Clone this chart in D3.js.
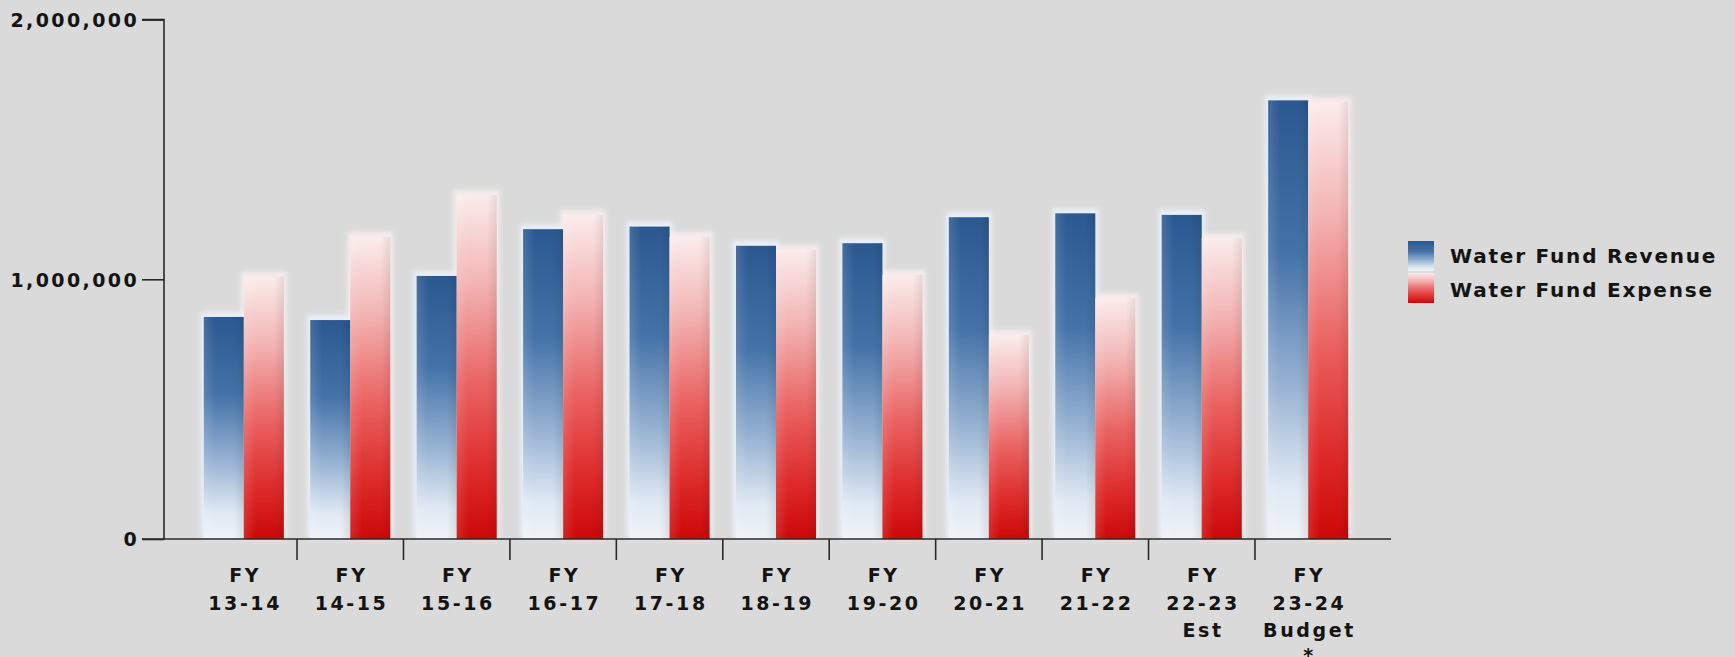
<!DOCTYPE html>
<html><head><meta charset="utf-8">
<script src="https://cdn.jsdelivr.net/npm/d3@7/dist/d3.min.js"></script>
<style>
html,body{margin:0;padding:0;background:#dadada;}
svg{display:block;}
text{font-family:"DejaVu Sans",Verdana,sans-serif;font-weight:bold;fill:#141414;}
</style></head>
<body>
<svg id="chart" width="1735" height="657"></svg>
<script>
const categories = [
  ["FY","13-14"],["FY","14-15"],["FY","15-16"],["FY","16-17"],["FY","17-18"],
  ["FY","18-19"],["FY","19-20"],["FY","20-21"],["FY","21-22"],
  ["FY","22-23","Est"],["FY","23-24","Budget","*"]
];
const seriesNames = ["Water Fund Revenue","Water Fund Expense"];
const revenue = [855000, 843000, 1013000, 1193000, 1203000, 1129000, 1139000, 1239000, 1254000, 1248000, 1689000];
const expense = [1010000, 1164000, 1325000, 1248000, 1164000, 1113000, 1017000, 786000, 927000, 1159000, 1683000];
const yTicks = [0, 1000000, 2000000];

(function(){
const svg = d3.select("#chart");
const W = 1735, H = 657;
svg.append("rect").attr("width",W).attr("height",H).attr("fill","#dadada");

const pL = 164, pR = 1388, pT = 19.6, pB = 539, axisEnd = 1391;
const keys = categories.map(c => c.join(" "));
const x = d3.scaleBand().domain(keys).range([pL, pR]).paddingInner(0).paddingOuter(0.25);
const xs = d3.scaleBand().domain(seriesNames).range([0, x.bandwidth()]).paddingInner(0).paddingOuter(0.33);
const y = d3.scaleLinear().domain([0, 2000000]).range([pB, pT]);

const defs = svg.append("defs");
const gb = defs.append("linearGradient").attr("id","gBlue").attr("x1",0).attr("y1",0).attr("x2",0).attr("y2",1);
[[0,"#2b5890"],[0.35,"#4573a8"],[0.65,"#97b2d2"],[0.88,"#dfe8f2"],[1,"#f0f3f7"]].forEach(s=>gb.append("stop").attr("offset",s[0]).attr("stop-color",s[1]));
const gr = defs.append("linearGradient").attr("id","gRed").attr("x1",0).attr("y1",0).attr("x2",0).attr("y2",1);
[[0,"#fbecec"],[0.25,"#f3b5b5"],[0.55,"#ea6262"],[0.8,"#de2c2c"],[1,"#cc0808"]].forEach(s=>gr.append("stop").attr("offset",s[0]).attr("stop-color",s[1]));
const gh = defs.append("linearGradient").attr("id","gShade").attr("x1",0).attr("y1",0).attr("x2",1).attr("y2",0);
[[0,"#ffffff",0.12],[0.3,"#ffffff",0],[0.75,"#000000",0],[1,"#000000",0.08]].forEach(s=>gh.append("stop").attr("offset",s[0]).attr("stop-color",s[1]).attr("stop-opacity",s[2]));
defs.append("filter").attr("id","glow").attr("x","-50%").attr("y","-10%").attr("width","200%").attr("height","120%")
  .append("feGaussianBlur").attr("stdDeviation",2.2);

const data = [];
keys.forEach((k,i)=>{
  data.push({k, s:seriesNames[0], v:revenue[i], fill:"url(#gBlue)", glow:"#eaf2fa"});
  data.push({k, s:seriesNames[1], v:expense[i], fill:"url(#gRed)", glow:"#f8eeee"});
});

const gBars = svg.append("g");
gBars.selectAll("rect.glow").data(data).join("rect").attr("class","glow")
  .attr("x", d=>x(d.k)+xs(d.s)-3).attr("y", d=>y(d.v)-5)
  .attr("width", xs.bandwidth()+6).attr("height", d=>pB-y(d.v)+5)
  .attr("fill", d=>d.glow).attr("opacity",0.9).attr("filter","url(#glow)");
gBars.selectAll("rect.bar").data(data).join("rect").attr("class","bar")
  .attr("x", d=>x(d.k)+xs(d.s)).attr("y", d=>y(d.v))
  .attr("width", xs.bandwidth()).attr("height", d=>pB-y(d.v))
  .attr("fill", d=>d.fill);
gBars.selectAll("rect.shade").data(data).join("rect").attr("class","shade")
  .attr("x", d=>x(d.k)+xs(d.s)).attr("y", d=>y(d.v))
  .attr("width", xs.bandwidth()).attr("height", d=>pB-y(d.v))
  .attr("fill", "url(#gShade)");

// Y axis
const yAxis = d3.axisLeft(y).tickValues(yTicks).tickSize(22).tickPadding(3).tickFormat(d3.format(","));
const ya = svg.append("g").attr("transform",`translate(${pL},0)`).call(yAxis);
ya.select(".domain").attr("stroke","#2a2a2a").attr("stroke-width",1.6).attr("d",`M-22,${pT}H0V${pB}H-22`);
ya.selectAll(".tick line").attr("stroke","#2a2a2a").attr("stroke-width",1.6);
ya.selectAll(".tick text").attr("font-size",19).attr("letter-spacing","2.4px").attr("fill","#141414")
  .attr("font-family",'"DejaVu Sans",Verdana,sans-serif').attr("font-weight","bold").attr("dy","0.36em");

// X axis
const xa = svg.append("g");
xa.append("line").attr("x1",pL).attr("x2",axisEnd).attr("y1",pB).attr("y2",pB).attr("stroke","#2a2a2a").attr("stroke-width",1.6);
xa.selectAll("line.tk").data(keys.slice(1)).join("line").attr("class","tk")
  .attr("x1",d=>x(d)).attr("x2",d=>x(d)).attr("y1",pB).attr("y2",pB+21)
  .attr("stroke","#2a2a2a").attr("stroke-width",1.6);
const lab = xa.selectAll("text.xl").data(categories).join("text").attr("class","xl")
  .attr("text-anchor","middle").attr("font-size",19).attr("letter-spacing","2.6px")
  .attr("transform",(d,i)=>`translate(${x(keys[i])+x.bandwidth()/2+1.3},0)`);
lab.selectAll("tspan").data(d=>d).join("tspan").attr("x",0).attr("y",(d,j)=>582+j*27.5 - (j===3?3:0)).text(d=>d);

// Legend
const lg = svg.append("g");
const sw = [{n:seriesNames[0], f:"url(#gBlue)", y:241},{n:seriesNames[1], f:"url(#gRed)", y:273}];
lg.selectAll("rect").data(sw).join("rect").attr("x",1408).attr("y",d=>d.y).attr("width",26).attr("height",30).attr("fill",d=>d.f);
lg.selectAll("text").data(sw).join("text").attr("x",1450).attr("y",(d,i)=>263+i*33.5)
  .attr("font-size",20).attr("letter-spacing","1.8px").text(d=>d.n);
})();
</script>
</body></html>
